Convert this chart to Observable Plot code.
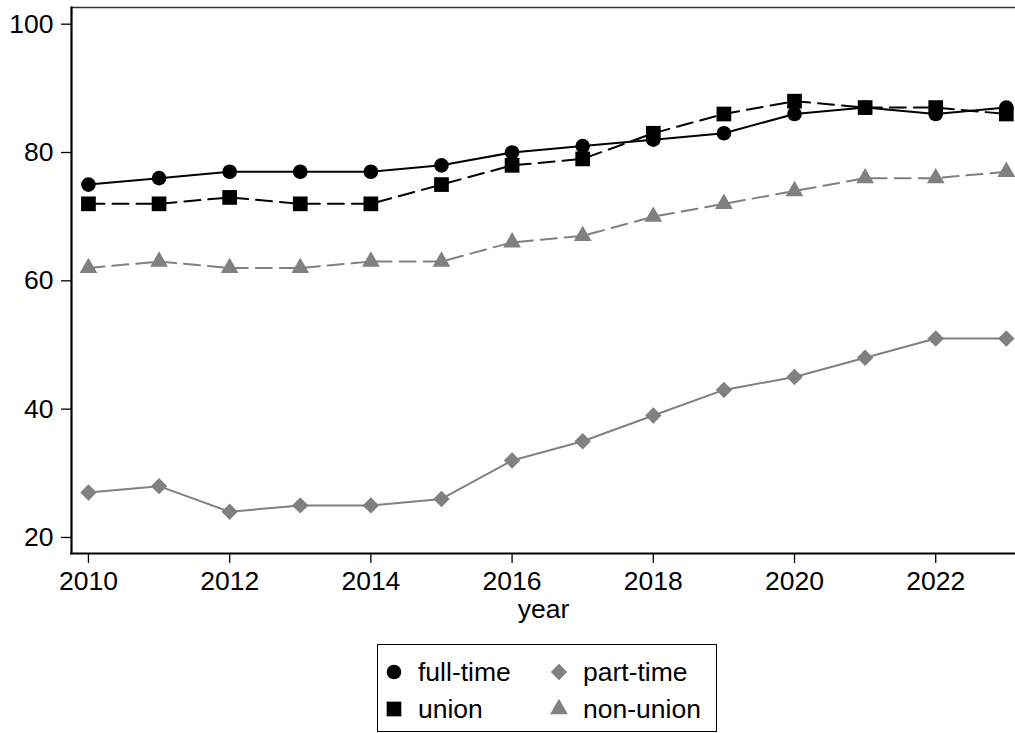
<!DOCTYPE html>
<html><head><meta charset="utf-8">
<script src="https://cdn.jsdelivr.net/npm/d3@7"></script>
<script src="https://cdn.jsdelivr.net/npm/@observablehq/plot@0.6"></script>
<style>
body{margin:0;background:#fff;font-family:"Liberation Sans",Arial,sans-serif;}
#wrap{position:relative;width:1015px;height:733px;overflow:hidden;background:#fff;}
#legend{position:absolute;left:377px;top:644px;width:340px;height:88px;border:1.5px solid #000;box-sizing:border-box;}
#legend svg{display:block;}
</style></head><body><div id="wrap"><div id="chart"></div><div id="legend"></div></div>
<script>
// ---- data ----
const years     = [2010,2011,2012,2013,2014,2015,2016,2017,2018,2019,2020,2021,2022,2023];
const fullTime  = [75,76,77,77,77,78,80,81,82,83,86,87,86,87];
const union     = [72,72,73,72,72,75,78,79,83,86,88,87,87,86];
const nonUnion  = [62,63,62,62,63,63,66,67,70,72,74,76,76,77];
const partTime  = [27,28,24,25,25,26,32,35,39,43,45,48,51,51];
const xTicks    = [2010,2012,2014,2016,2018,2020,2022];
const yTicks    = [20,40,60,80,100];
const seriesNames = ["full-time","union","part-time","non-union"];

// ---- styles ----
const GRAY = "#808080";
const FONT = '"Liberation Sans", Arial, Helvetica, sans-serif';
const FS = 26.5;
const styles = {
  "full-time": {values: fullTime, color: "#000", dash: null,   symbol: "circle",   r: 7.3},
  "union":     {values: union,    color: "#000", dash: "16,8", symbol: "square",   r: 8.3},
  "part-time": {values: partTime, color: GRAY,   dash: null,   symbol: "diamond2", r: 7.4},
  "non-union": {values: nonUnion, color: GRAY,   dash: "16,8", symbol: "triangle", r: 6.6}
};
const rowsOf = name => years.map((year, i) => ({year, value: styles[name].values[i], series: name}));

const drawOrder = ["part-time","non-union","union","full-time"];
const lineMarks = drawOrder.map(name => Plot.line(rowsOf(name), {
  x: "year", y: "value", stroke: styles[name].color, strokeWidth: 2,
  strokeDasharray: styles[name].dash || undefined
}));
const dotMarks = drawOrder.map(name => Plot.dot(rowsOf(name), {
  x: "year", y: "value", symbol: () => styles[name].symbol, r: styles[name].r,
  fill: styles[name].color, stroke: "none"
}));

const chart = Plot.plot({
  width: 1015, height: 640,
  marginTop: 7, marginBottom: 87, marginLeft: 71, marginRight: 0,
  x: {domain: [2009.76, 2023.13]},
  y: {domain: [17.5, 102.6]},
  symbol: {type: "identity"},
  style: {fontFamily: FONT, fontSize: FS + "px", color: "#000", background: "#fff", overflow: "hidden"},
  marks: [
    Plot.frame({anchor: "top", stroke: "#333", strokeWidth: 1.5}),
    Plot.axisX({ticks: xTicks, tickSize: 10, tickPadding: 8, tickFormat: d3.format("d"), fontSize: FS,
      label: "year", labelAnchor: "center", labelArrow: "none", labelOffset: 64, strokeWidth: 1.3}),
    Plot.axisY({ticks: yTicks, tickSize: 10, tickPadding: 8, label: null, fontSize: FS, strokeWidth: 1.3}),
    Plot.frame({anchor: "left", stroke: "#000", strokeWidth: 2.2}),
    Plot.frame({anchor: "bottom", stroke: "#000", strokeWidth: 2.2}),
    ...lineMarks,
    ...dotMarks
  ]
});
document.getElementById("chart").appendChild(chart);

// ---- legend ----
const legendPos = {
  "full-time": [16, 27], "part-time": [181, 27],
  "union": [16, 64],     "non-union": [181, 64]
};
const lsvg = d3.select("#legend").append("svg").attr("width", 337).attr("height", 85);
const symMap = {circle: d3.symbolCircle, square: d3.symbolSquare, diamond2: d3.symbolDiamond2, triangle: d3.symbolTriangle};
seriesNames.forEach(name => {
  const s = styles[name], [x, y] = legendPos[name];
  lsvg.append("path")
    .attr("d", d3.symbol(symMap[s.symbol], Math.PI * s.r * s.r)())
    .attr("transform", `translate(${x},${y})`)
    .attr("fill", s.color);
  lsvg.append("text").attr("x", x + 24).attr("y", y).attr("dy", "0.35em")
    .attr("font-family", FONT).attr("font-size", FS).attr("fill", "#000").text(name);
});
</script></body></html>
